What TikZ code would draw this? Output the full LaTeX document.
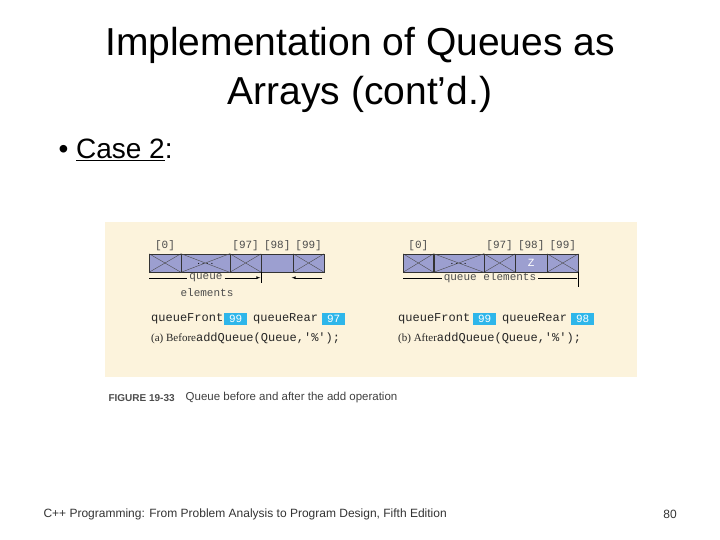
\documentclass[tikz,border=0pt]{standalone}
\usepackage{fontspec}
\setmainfont{Liberation Sans}
\newfontfamily\codefont{Liberation Mono}
\newfontfamily\narrowfont{Liberation Serif}
\usetikzlibrary{positioning}
\definecolor{figbg}{HTML}{FCF3DC}
\definecolor{cellfill}{HTML}{9C9FD0}
\definecolor{ptrfill}{HTML}{2EB6EA}
\tikzset{
  cellbox/.style={draw=black!80, fill=cellfill, inner sep=0pt, minimum height=18.3pt},
  xcell/.style={cellbox, path picture={\draw[black!70] (path picture bounding box.north west) -- (path picture bounding box.south east) (path picture bounding box.south west) -- (path picture bounding box.north east);}},
  idx/.style={font=\codefont\fontsize{11}{11}\selectfont, text=black!70, inner sep=0pt},
  code/.style={font=\codefont\fontsize{12}{12}\selectfont, text=black!85, inner sep=0pt, anchor=west},
  ptrbox/.style={fill=ptrfill, text=white, font=\codefont\fontsize{11}{11}\selectfont, minimum width=23pt, minimum height=12pt, inner sep=0pt, anchor=west},
}
\begin{document}
\begin{tikzpicture}[x=1pt,y=-1pt]
\useasboundingbox (0,0) rectangle (720,540);

% Title and bullet
\node[font=\fontsize{39}{49}\selectfont, align=center] (title) at (360,70) {Implementation of Queues as\\Arrays (cont\symbol{39}d.)};
\node[font=\fontsize{28}{30}\selectfont, anchor=west] (case) at (55,150) {\textbullet\ \underline{Case 2}:};

% Figure background
\fill[figbg] (105,222) rectangle (637,377);

% (a) before
\node[xcell, minimum width=31.4pt] (a0) at (165,263) {};
\node[cellbox, minimum width=48.6pt, right=0pt of a0] (adots) {\raisebox{-2pt}{.\,.\,.\,.}};
\draw[black!70] (adots.north west) -- (adots.south east) (adots.south west) -- (adots.north east);
\node[xcell, minimum width=31pt, right=0pt of adots] (a97) {};
\node[cellbox, minimum width=31.4pt, right=0pt of a97] (a98) {};
\node[xcell, minimum width=30.6pt, right=0pt of a98] (a99) {};
\node[idx, above=3pt of a0] {[0]};
\node[idx, above=3pt of a97] {[97]};
\node[idx, above=3pt of a98] {[98]};
\node[idx, above=3pt of a99] {[99]};
\coordinate (aqs) at (149.3,277.7);
\coordinate (aqe) at (260.3,277.7);
\node[idx, fill=figbg, inner xsep=2pt] (aq) at (206,277.7) {queue};
\draw (aqs) -- (aq.west);
\draw[->, >=latex] (aq.east) -- (aqe);
\draw (a97.south east) -- ++(0,11);
\coordinate (ars) at (322.3,277.7);
\coordinate (are) at (291.7,277.7);
\draw[->, >=latex] (ars) -- (are);
\node[idx] at (207,292.7) {elements};
\node[code] (afront) at (151,318.7) {queueFront};
\node[ptrbox] (af) at (224,318.7) {99};
\node[code] (arear) at (253,318.7) {queueRear};
\node[ptrbox] (ar) at (322,318.7) {97};
\node[code] at (151,338.7) {{\narrowfont\fontsize{11}{11}\selectfont(a) Before}addQueue(Queue,\symbol{39}\%\symbol{39});};

% (b) after
\node[xcell, minimum width=30pt] (b0) at (418.3,263) {};
\node[cellbox, minimum width=50pt, right=0pt of b0] (bdots) {\raisebox{-2pt}{.\,.\,.\,.}};
\draw[black!70] (bdots.north west) -- (bdots.south east) (bdots.south west) -- (bdots.north east);
\node[xcell, minimum width=31pt, right=0pt of bdots] (b97) {};
\node[cellbox, minimum width=31.4pt, right=0pt of b97, text=white, font=\codefont\fontsize{11}{11}\selectfont] (b98) {Z};
\node[xcell, minimum width=31pt, right=0pt of b98] (b99) {};
\node[idx, above=3pt of b0] {[0]};
\node[idx, above=3pt of b97] {[97]};
\node[idx, above=3pt of b98] {[98]};
\node[idx, above=3pt of b99] {[99]};
\coordinate (bqs) at (403.3,277.7);
\coordinate (bqe) at (576.7,277.7);
\node[idx, fill=figbg, inner xsep=2pt] (bq) at (490,277.7) {queue elements};
\draw (bqs) -- (bq.west) (bq.east) -- (bqe);
\draw (b99.south east) -- ++(0,15);
\node[code] (bfront) at (398,318.7) {queueFront};
\node[ptrbox] (bf) at (473,318.7) {99};
\node[code] (brear) at (502,318.7) {queueRear};
\node[ptrbox] (br) at (571,318.7) {98};
\node[code] at (398,338.7) {{\narrowfont\fontsize{11}{11}\selectfont(b) After}addQueue(Queue,\symbol{39}\%\symbol{39});};

% Caption
\node[anchor=west, font=\fontsize{10}{10}\selectfont\bfseries, text=black!70] (fig) at (105,398) {FIGURE 19-33};
\node[anchor=west, font=\fontsize{11.5}{12}\selectfont, text=black!75, right=4pt of fig] {Queue before and after the add operation};

% Footer
\node[anchor=west, font=\fontsize{12}{12}\selectfont, text=black!80] (foot) at (40,514) {C++ Programming: From Problem Analysis to Program Design, Fifth Edition};
\node[font=\fontsize{12}{12}\selectfont, text=black!80] (page) at (670,514) {80};
\end{tikzpicture}
\end{document}
